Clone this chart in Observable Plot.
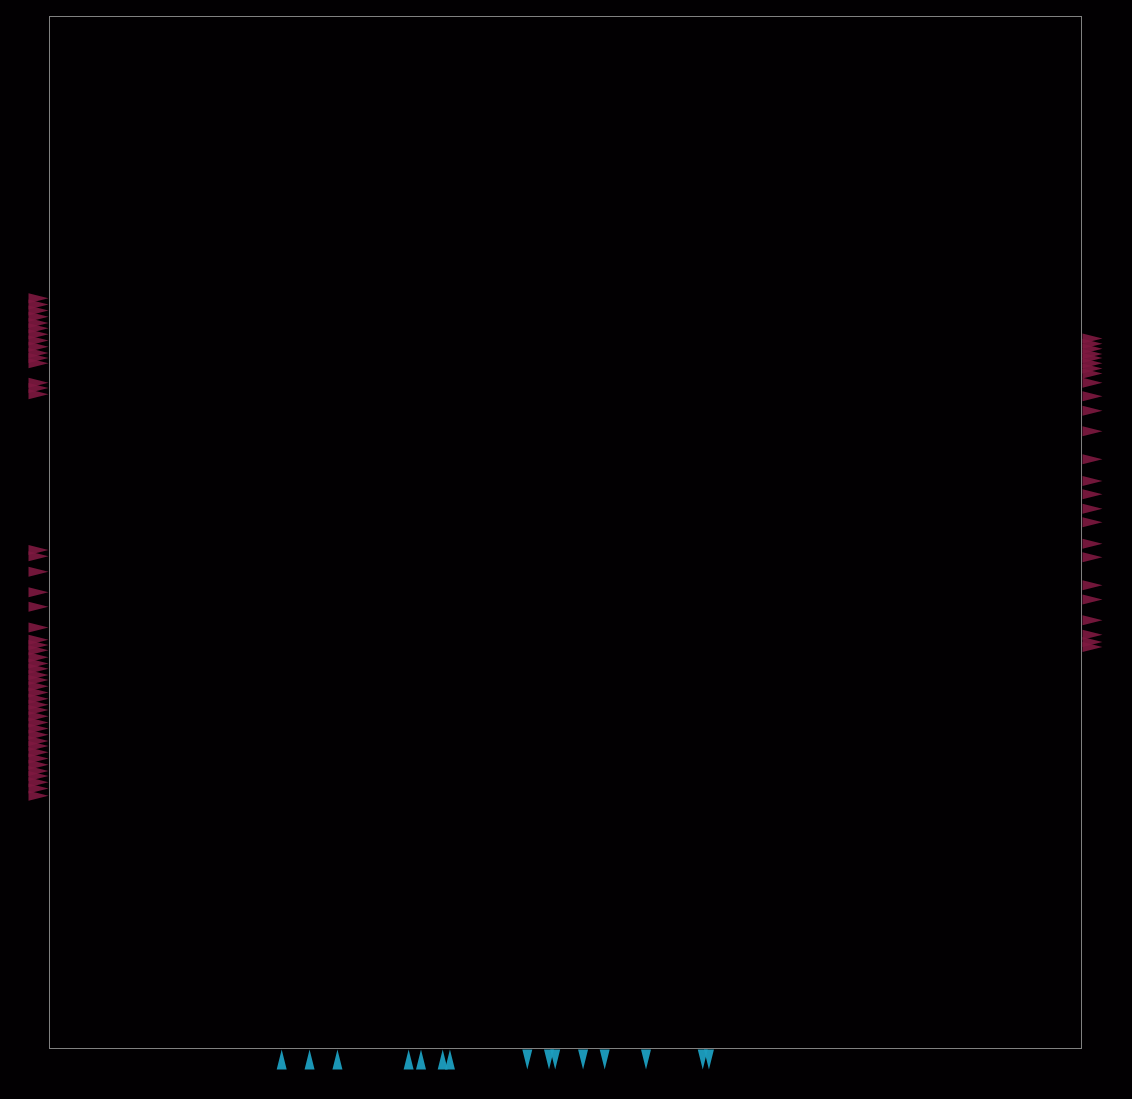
<!DOCTYPE html>
<html>
<head>
<meta charset="utf-8">
<script src="https://cdn.jsdelivr.net/npm/d3@7"></script>
<script src="https://cdn.jsdelivr.net/npm/@observablehq/plot@0.6"></script>
<style>
  html, body { margin: 0; padding: 0; background: #020002; }
  #chart svg { display: block; }
</style>
</head>
<body>
<div id="chart"></div>
<script>
// Rug values (data units, 0–100 on both axes)
const leftY = [72.7, 72.1, 71.5, 70.9, 70.3, 69.8, 69.2, 68.6, 68.0, 67.4, 66.9, 66.4,
  64.5, 64.0, 63.4,
  48.3, 47.7, 46.2, 44.2, 42.8, 40.8, 39.6, 39.1, 38.6, 37.9, 37.3,
  36.8, 36.2, 35.7, 35.1, 34.5, 33.9, 33.3, 32.8, 32.2, 31.6, 31.0, 30.4, 29.8,
  29.3, 28.7, 28.1, 27.5, 26.9, 26.4, 25.8, 25.2, 24.5];
const rightY = [68.8, 68.3, 67.8, 67.3, 66.9, 66.4, 65.9, 65.4, 64.5, 63.2, 61.8, 59.8,
  57.1, 55.0, 53.7, 52.3, 51.0, 48.9, 47.6, 44.9, 43.5, 41.5, 40.1, 39.4, 38.9];
const bottomUpX = [22.5, 25.2, 27.9, 34.8, 36.0, 38.1, 38.8];
const bottomDownX = [46.3, 48.4, 49.0, 51.7, 53.8, 57.8, 63.3, 63.9];

const maroon = "#7e1840";
const cyan = "#1c9ec0";

const spike = {shape: "spike", anchor: "start", length: 20, r: 5, stroke: "none"};

const chart = Plot.plot({
  width: 1132,
  height: 1099,
  marginLeft: 49,
  marginRight: 51,
  marginTop: 16,
  marginBottom: 51,
  style: {background: "#020002", color: "#888"},
  x: {domain: [0, 100], axis: null},
  y: {domain: [0, 100], axis: null},
  marks: [
    Plot.frame({stroke: "#808080", strokeWidth: 1}),
    Plot.vector(leftY, {...spike, x: () => 0, y: d => d, rotate: 90, dx: -21, fill: maroon, fillOpacity: 0.9}),
    Plot.vector(rightY, {...spike, x: () => 100, y: d => d, rotate: 90, dx: 1, fill: maroon, fillOpacity: 0.9}),
    Plot.vector(bottomUpX, {...spike, x: d => d, y: () => 0, rotate: 0, dy: 21, fill: cyan, fillOpacity: 0.95}),
    Plot.vector(bottomDownX, {...spike, x: d => d, y: () => 0, rotate: 180, dy: 1, fill: cyan, fillOpacity: 0.95})
  ]
});
document.getElementById("chart").append(chart);
</script>
</body>
</html>
